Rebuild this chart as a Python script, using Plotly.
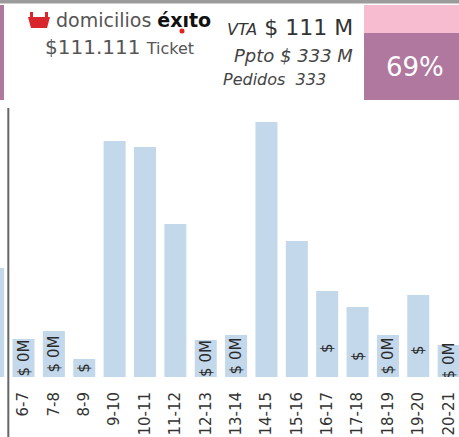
import plotly.graph_objects as go

# ---------------- data ----------------
hours = ["5-6", "6-7", "7-8", "8-9", "9-10", "10-11", "11-12", "12-13", "13-14",
         "14-15", "15-16", "16-17", "17-18", "18-19", "19-20", "20-21"]
sales = [109, 38, 46, 18, 236, 230, 153, 37, 42, 255, 136, 86, 70, 42, 82, 32]
bar_labels = ["", "$ 0M", "$ 0M", "$", "", "", "", "$ 0M", "$ 0M", "", "",
              "$", "$", "$ 0M", "$", "$ 0M"]

ticket_value = "$111.111"
ticket_word = "Ticket"
vta_value = "$ 111 M"
ppto_value = "$ 333 M"
pedidos_value = "333"
pct_value = "69%"

# ---------------- geometry helpers ----------------
W, H = 459, 437
M_T, M_B = 110, 60
PLOT_H = H - M_T - M_B
FONT = "DejaVu Sans"


def px_x(x):
    return x / W


def px_y(y):
    return (H - M_B - y) / PLOT_H


NBSP = "\u00a0"
shown_labels = [
    (lab + NBSP * 6) if (lab == "$" and v > 50) else lab
    for lab, v in zip(bar_labels, sales)
]

fig = go.Figure()
fig.add_trace(go.Bar(
    x=hours,
    y=sales,
    marker=dict(color="#c3d8ea", line=dict(width=0)),
    text=shown_labels,
    textposition="inside",
    insidetextanchor="middle",
    textangle=-90,
    constraintext="none",
    textfont=dict(family=FONT, size=15, color="#2a2a2a"),
    hoverinfo="skip",
))

shapes = []


def rect(x0, y0, x1, y1, color):
    shapes.append(dict(type="rect", xref="paper", yref="paper",
                       x0=px_x(x0), x1=px_x(x1), y0=px_y(y0), y1=px_y(y1),
                       fillcolor=color, line=dict(width=0), layer="above"))


rect(0, 0, W, 3.5, "#9b9b9b")
rect(0, 5, 4, 100, "#b0789f")
rect(364, 5, W, 33, "#f8bcd1")
rect(364, 33, W, 100, "#b0789f")

# vertical separator between the first (clipped) category and the rest
shapes.append(dict(type="line", xref="x", yref="paper", x0=0.5, x1=0.5,
                   y0=px_y(H), y1=px_y(108),
                   line=dict(color="#666666", width=2)))


def path(points, closed=True):
    s = ""
    for cmd, *pts in points:
        coords = " ".join(f"{px_x(pts[j]):.5f},{px_y(pts[j+1]):.5f}" for j in range(0, len(pts), 2))
        s += f"{cmd} {coords} "
    if closed:
        s += "Z"
    return s


# basket logo
shapes.append(dict(type="path", xref="paper", yref="paper",
                   path=path([("M", 28, 17), ("L", 50, 17), ("L", 47, 28), ("L", 31, 28)]),
                   fillcolor="#d9252c", line=dict(width=0)))
shapes.append(dict(type="path", xref="paper", yref="paper",
                   path=path([("M", 30, 17), ("L", 30, 12), ("L", 33, 12), ("L", 33, 17)]),
                   fillcolor="#d9252c", line=dict(width=0)))
shapes.append(dict(type="path", xref="paper", yref="paper",
                   path=path([("M", 45, 17), ("L", 45, 12), ("L", 48, 12), ("L", 48, 17)]),
                   fillcolor="#d9252c", line=dict(width=0)))
# red dot of the logo
shapes.append(dict(type="circle", xref="paper", yref="paper",
                   x0=px_x(179.5), x1=px_x(184.5), y0=px_y(28.5), y1=px_y(33.5),
                   fillcolor="#e2231a", line=dict(width=0)))

annotations = [
    dict(x=px_x(54), y=px_y(20), xanchor="left", yanchor="middle",
         text="domicilios <b><span style='color:#111111'>éxıto</span></b>",
         font=dict(family=FONT, size=19, color="#555555")),
    dict(x=px_x(43), y=px_y(47), xanchor="left", yanchor="middle",
         text=f"{ticket_value} <span style='font-size:16px'>{ticket_word}</span>",
         font=dict(family=FONT, size=20, color="#555555")),
    dict(x=px_x(355), y=px_y(28), xanchor="right", yanchor="middle",
         text=f"<i><span style='font-size:16px'>VTA</span></i> {vta_value}",
         font=dict(family=FONT, size=22, color="#333333")),
    dict(x=px_x(355), y=px_y(56), xanchor="right", yanchor="middle",
         text=f"<i>Ppto {ppto_value}</i>",
         font=dict(family=FONT, size=18, color="#444444")),
    dict(x=px_x(221), y=px_y(80), xanchor="left", yanchor="middle",
         text=f"<i>Pedidos  {pedidos_value}</i>",
         font=dict(family=FONT, size=16, color="#444444")),
    dict(x=px_x(415), y=px_y(67), xanchor="center", yanchor="middle",
         text=pct_value,
         font=dict(family=FONT, size=26, color="#ffffff")),
]
for a in annotations:
    a.update(xref="paper", yref="paper", showarrow=False)

fig.update_layout(
    width=W, height=H,
    margin=dict(l=0, r=0, t=M_T, b=M_B, pad=0),
    paper_bgcolor="white", plot_bgcolor="white",
    showlegend=False,
    bargap=0.275,
    shapes=shapes,
    annotations=annotations,
    xaxis=dict(type="category", categoryorder="array", categoryarray=hours,
               range=[0.226, 15.34], tickangle=-90, showgrid=False,
               zeroline=False, showline=False, ticks="",
               ticklabelstandoff=11, automargin=False,
               tickfont=dict(family=FONT, size=15, color="#333333"),
               fixedrange=True),
    yaxis=dict(visible=False, range=[0, PLOT_H], fixedrange=True),
)

fig.write_html(
    "out.html",
    config={"displayModeBar": False},
    post_script="document.body.style.margin='0px';document.body.style.overflow='hidden';",
)
